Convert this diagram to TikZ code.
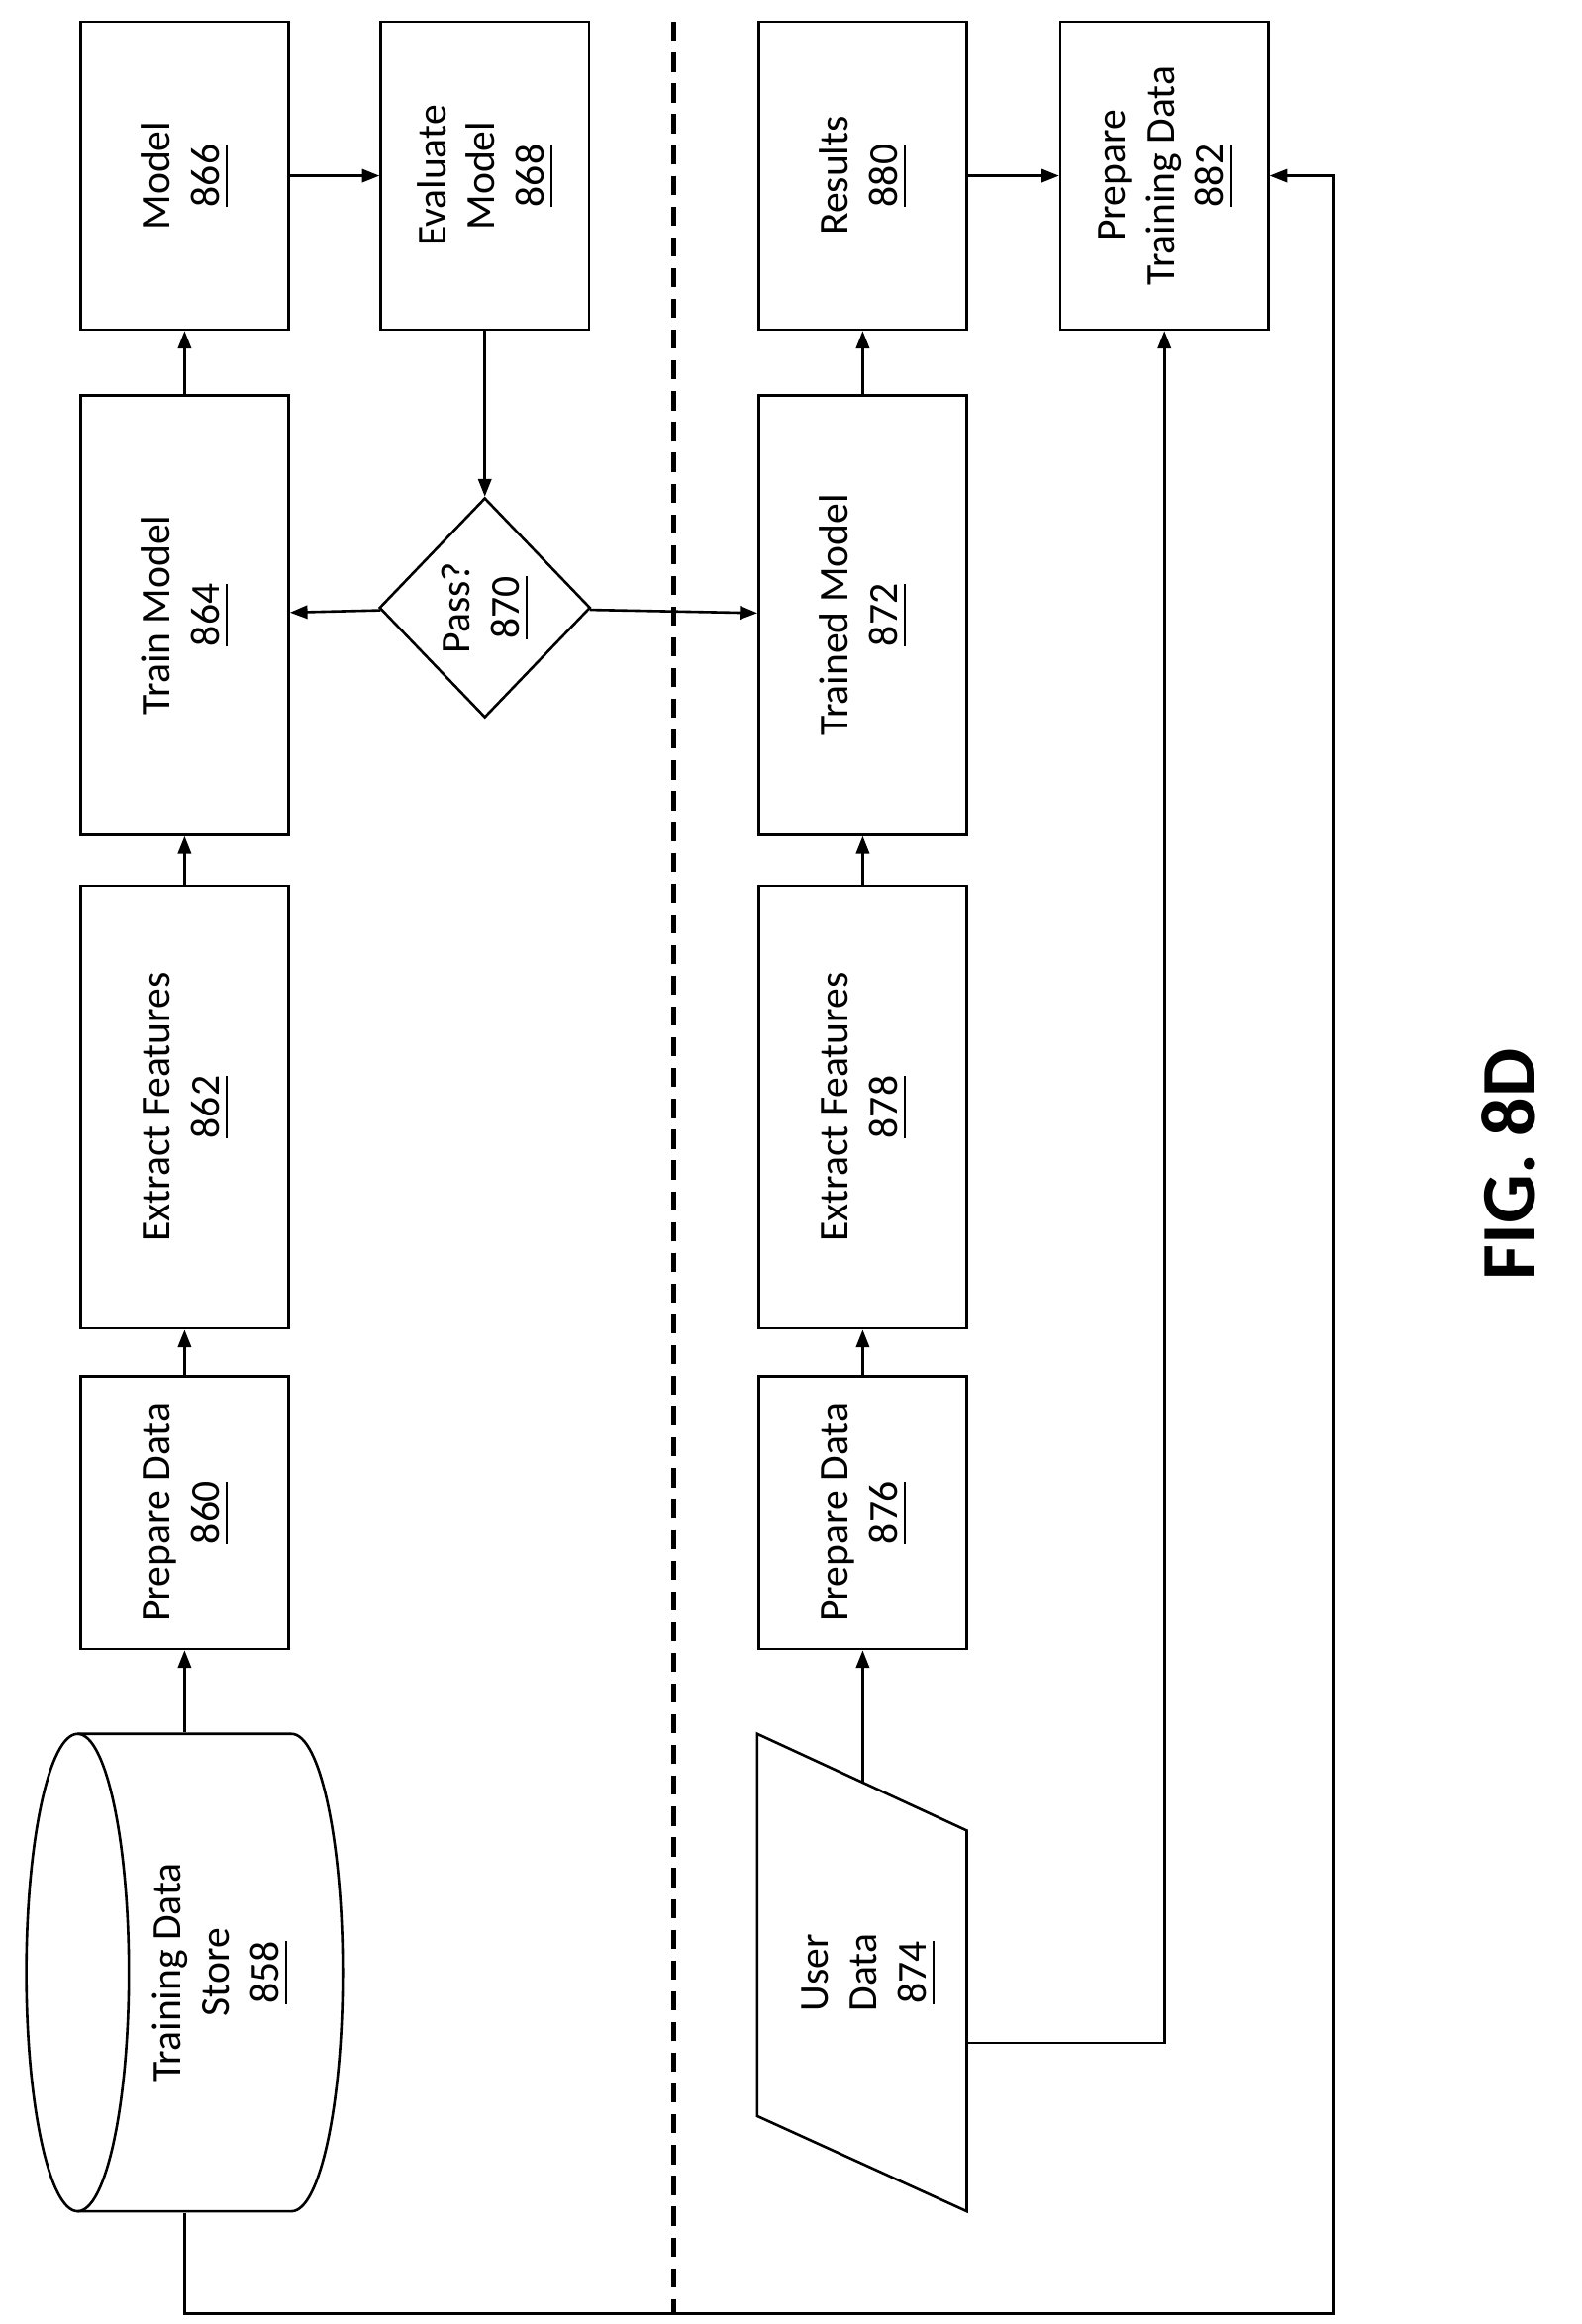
\documentclass[tikz,border=0pt]{standalone}
\usepackage{fontspec}
\setmainfont{Carlito}
\usetikzlibrary{shapes.geometric,arrows.meta}
\newcommand{\lbl}[2]{\rotatebox{90}{\begin{tabular}{@{}c@{}}#1\\\underline{#2}\end{tabular}}}
\tikzset{
  blk/.style={draw,line width=0.5pt,minimum width=1.42cm,inner sep=0pt,font=\fontsize{8}{9.5}\selectfont},
  arr/.style={line width=0.5pt,-{Triangle[length=1.2mm,width=0.9mm]}},
}
\begin{document}
\begin{tikzpicture}[x=0.01cm,y=-0.01cm]
  \useasboundingbox (0,0) rectangle (1080,1587);

  % left column (training)
  \node[blk,minimum height=1.86cm] (n860) at (126,1033) {\lbl{Prepare Data}{860}};
  \node[blk,minimum height=3.02cm] (n862) at (126,756) {\lbl{Extract Features}{862}};
  \node[blk,minimum height=3.00cm] (n864) at (126,420) {\lbl{Train Model}{864}};
  \node[blk,minimum height=2.10cm] (n866) at (126,120) {\lbl{Model}{866}};
  \node[blk,minimum height=2.10cm] (n868) at (331,120) {\lbl{Evaluate\\Model}{868}};
  \node[blk,shape=diamond,minimum width=1.44cm,minimum height=1.50cm] (n870) at (331,415) {\lbl{Pass?}{870}};

  % cylinder
  \node[blk,draw=none,minimum width=2.16cm,minimum height=3.26cm] (n858) at (126,1347) {};
  \draw[line width=0.5pt] (53,1347) ellipse [x radius=35,y radius=163];
  \draw[line width=0.5pt] (53,1184) -- (199,1184) arc[start angle=-90,end angle=90,x radius=35,y radius=163]
    -- (53,1510);
  \node[blk,draw=none] (t858) at (150,1347) {\lbl{Training Data\\Store}{858}};

  % right column (inference)
  \node[blk,minimum height=1.86cm] (n876) at (589,1033) {\lbl{Prepare Data}{876}};
  \node[blk,minimum height=3.02cm] (n878) at (589,756) {\lbl{Extract Features}{878}};
  \node[blk,minimum height=3.00cm] (n872) at (589,420) {\lbl{Trained Model}{872}};
  \node[blk,minimum height=2.10cm] (n880) at (589,120) {\lbl{Results}{880}};
  \node[blk,minimum height=2.10cm] (n882) at (795,120) {\lbl{Prepare\\Training Data}{882}};

  % user data
  \draw[line width=0.5pt] (517,1184) -- (660,1250) -- (660,1510) -- (517,1445) -- cycle;
  \node[blk,draw=none] (n874) at (592,1347) {\lbl{User\\Data}{874}};
  \coordinate (u874top) at (589,1218);
  \coordinate (u874r) at (660,1395);

  % separator
  \coordinate (sepA) at (460,15);
  \coordinate (sepB) at (460,1580);
  \draw[line width=0.9pt,dash pattern=on 1.3mm off 0.8mm] (sepA) -- (sepB);

  % connectors
  \draw[arr] (n858) -- (n860);
  \draw[arr] (n860) -- (n862);
  \draw[arr] (n862) -- (n864);
  \draw[arr] (n864) -- (n866);
  \draw[arr] (n866) -- (n868);
  \draw[arr] (n868) -- (n870);
  \draw[arr] (n870) -- (n864);
  \draw[arr] (n870) -- (n872);
  \draw[arr] (u874top) -- (n876);
  \draw[arr] (n876) -- (n878);
  \draw[arr] (n878) -- (n872);
  \draw[arr] (n872) -- (n880);
  \draw[arr] (n880) -- (n882);
  \draw[arr] (u874r) -| (n882.south);

  % feedback loop
  \coordinate (fbA) at (910,120);
  \coordinate (fbB) at (910,1580);
  \draw[arr,{Triangle[length=1.2mm,width=0.9mm]}-] (n882.east) -- (fbA) -- (fbB) -- (n858.south |- fbB) -- (n858.south);

  \node[font=\fontsize{15}{18}\selectfont\bfseries] (fig) at (1030,795) {\rotatebox{90}{FIG. 8D}};
\end{tikzpicture}
\end{document}
